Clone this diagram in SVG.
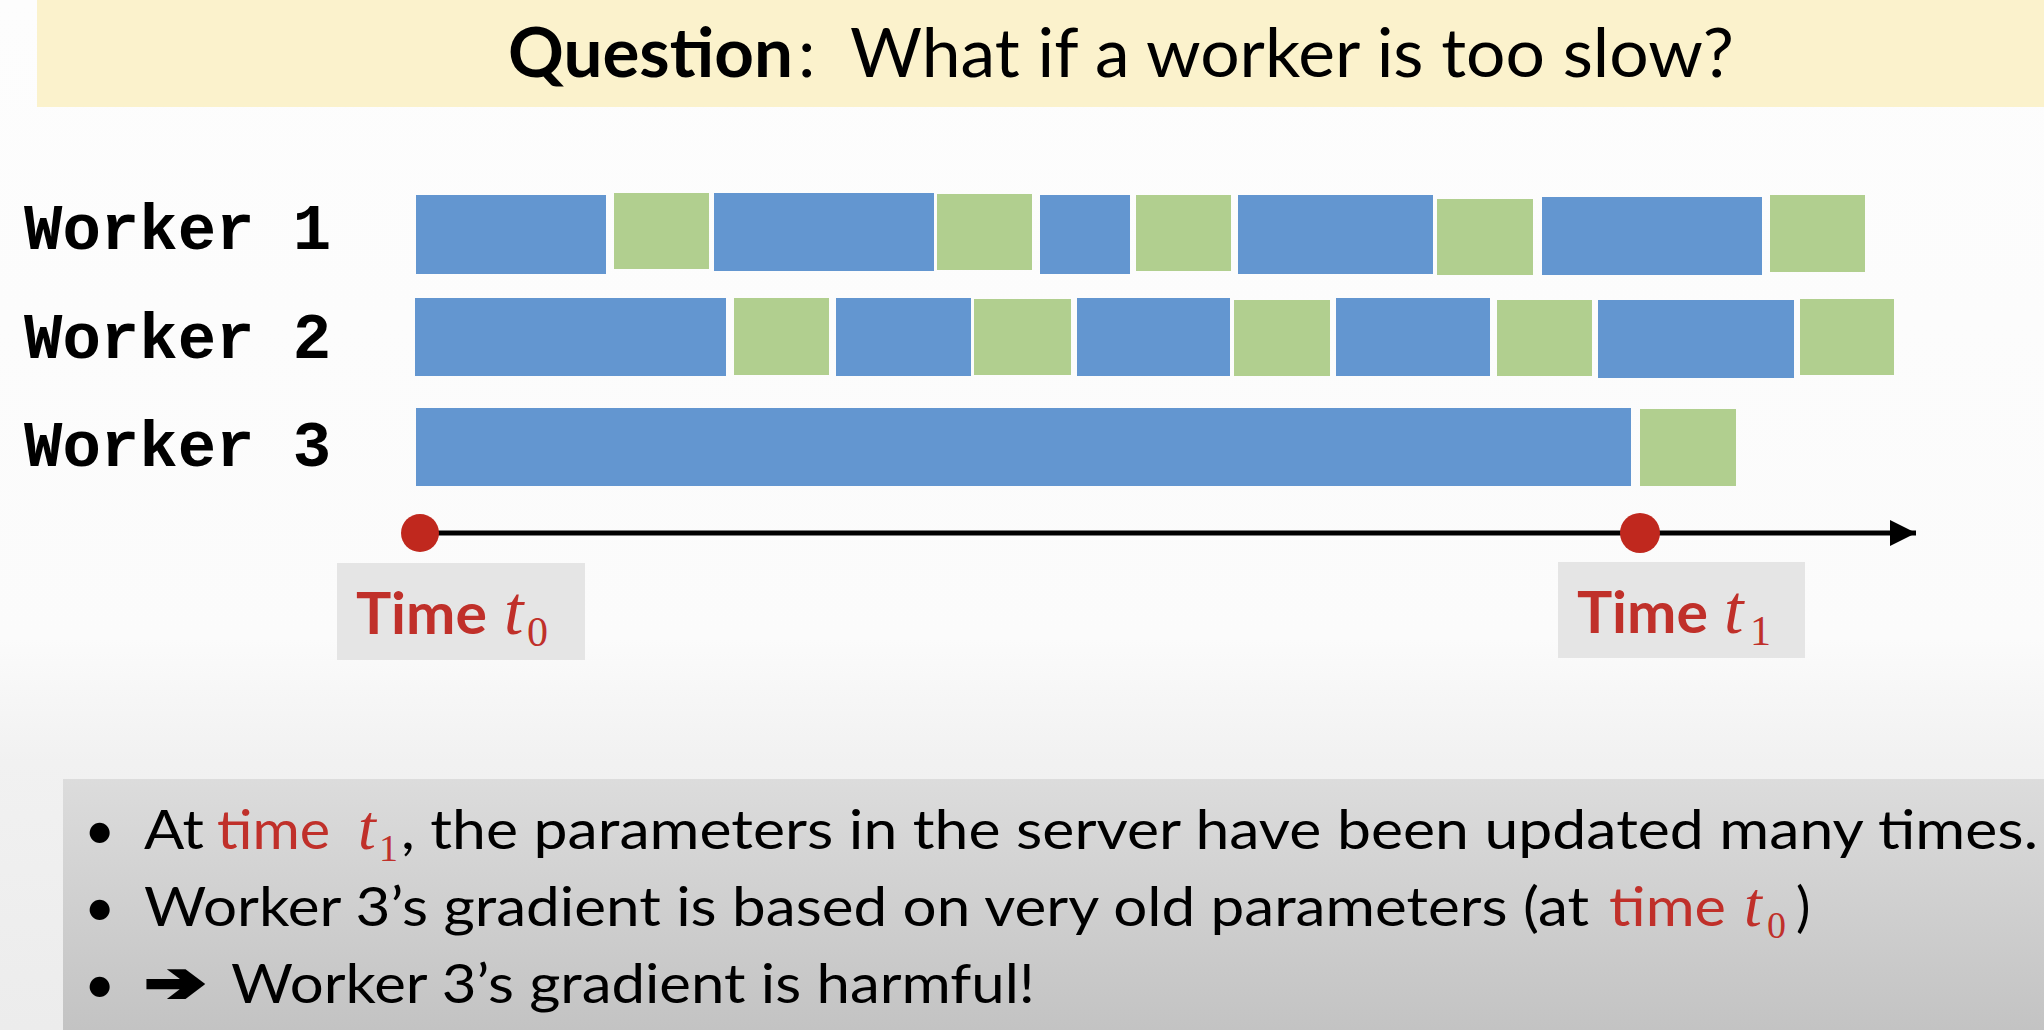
<svg xmlns="http://www.w3.org/2000/svg" width="2044" height="1030" viewBox="0 0 2044 1030">
<defs>
<linearGradient id="bg" x1="0" y1="0" x2="0" y2="1">
<stop offset="0" stop-color="#fdfdfd"/>
<stop offset="0.62" stop-color="#fbfbfb"/>
<stop offset="0.74" stop-color="#f1f1f1"/>
<stop offset="1" stop-color="#ececec"/>
</linearGradient>
<linearGradient id="box" x1="0" y1="0" x2="0" y2="1">
<stop offset="0" stop-color="#dcdcdc"/>
<stop offset="1" stop-color="#c3c3c3"/>
</linearGradient>
<marker id="arr" markerUnits="userSpaceOnUse" markerWidth="30" markerHeight="30" refX="26" refY="13" orient="auto">
<path d="M0,0 L26,13 L0,26 Z" fill="#000"/>
</marker>
<style>
.b{fill:#6396d0}
.g{fill:#b1cf8f}
.wl{font-family:"Liberation Mono","Courier New",monospace;font-weight:bold;font-size:64px;fill:#000}
.lbl{fill:#e5e5e5}
.tm{font-family:Lato,"Open Sans",sans-serif;font-weight:bold;font-size:58px;fill:#c0302a}
.mi{font-family:"Liberation Serif","DejaVu Serif",serif;font-style:italic;fill:#c0302a}
.sub{font-family:"Liberation Serif","DejaVu Serif",serif;font-style:normal;fill:#c0302a}
.bt{font-family:Lato,"Open Sans",sans-serif;font-size:54px;fill:#000}
.red{fill:#c0302a}
.dot{fill:#c0281e}
</style>
</defs>
<rect x="0" y="0" width="2044" height="1030" fill="url(#bg)"/>
<g id="title">
<rect x="37" y="0" width="2007" height="107" fill="#fbf2cc"/>
<text x="508" y="77" font-family="Lato,'Open Sans',sans-serif" font-weight="bold" font-size="68" textLength="285" lengthAdjust="spacingAndGlyphs">Question</text>
<text x="798" y="77" font-family="Lato,'Open Sans',sans-serif" font-size="68" textLength="936" lengthAdjust="spacingAndGlyphs" xml:space="preserve">:  What if a worker is too slow?</text>
</g>
<g id="worker1">
<text class="wl" x="24" y="249">Worker 1</text>
<rect class="b" x="416" y="195" width="190" height="79"/>
<rect class="g" x="614" y="193" width="95" height="76"/>
<rect class="b" x="714" y="193" width="220" height="78"/>
<rect class="g" x="937" y="194" width="95" height="76"/>
<rect class="b" x="1040" y="195" width="90" height="79"/>
<rect class="g" x="1136" y="195" width="95" height="76"/>
<rect class="b" x="1238" y="195" width="195" height="79"/>
<rect class="g" x="1437" y="199" width="96" height="76"/>
<rect class="b" x="1542" y="197" width="220" height="78"/>
<rect class="g" x="1770" y="195" width="95" height="77"/>
</g>
<g id="worker2">
<text class="wl" x="24" y="358">Worker 2</text>
<rect class="b" x="415" y="298" width="311" height="78"/>
<rect class="g" x="734" y="298" width="95" height="77"/>
<rect class="b" x="836" y="298" width="135" height="78"/>
<rect class="g" x="974" y="299" width="97" height="76"/>
<rect class="b" x="1077" y="298" width="153" height="78"/>
<rect class="g" x="1234" y="300" width="96" height="76"/>
<rect class="b" x="1336" y="298" width="154" height="78"/>
<rect class="g" x="1497" y="300" width="95" height="76"/>
<rect class="b" x="1598" y="300" width="196" height="78"/>
<rect class="g" x="1800" y="299" width="94" height="76"/>
</g>
<g id="worker3">
<text class="wl" x="24" y="466">Worker 3</text>
<rect class="b" x="416" y="408" width="1215" height="78"/>
<rect class="g" x="1640" y="409" width="96" height="77"/>
</g>
<g id="connectors">
<line x1="420" y1="533" x2="1916" y2="533" stroke="#000" stroke-width="5" marker-end="url(#arr)"/>
</g>
<g id="t0">
<circle class="dot" cx="420" cy="533" r="19"/>
<rect class="lbl" x="337" y="563" width="248" height="97"/>
<text class="tm" x="356" y="634" textLength="131" lengthAdjust="spacingAndGlyphs">Time</text>
<text class="mi" x="504" y="634" font-size="70">t</text>
<text class="sub" x="527" y="646" font-size="42">0</text>
</g>
<g id="t1">
<circle class="dot" cx="1640" cy="533" r="20"/>
<rect class="lbl" x="1558" y="562" width="247" height="96"/>
<text class="tm" x="1577" y="633" textLength="131" lengthAdjust="spacingAndGlyphs">Time</text>
<text class="mi" x="1724" y="633" font-size="70">t</text>
<text class="sub" x="1750" y="645" font-size="42">1</text>
</g>
<g id="notes">
<rect x="63" y="779" width="1981" height="251" fill="url(#box)"/>
<text class="bt" x="84" y="849" font-family="'Liberation Sans',sans-serif">•</text>
<text class="bt" x="144" y="849" textLength="60" lengthAdjust="spacingAndGlyphs">At</text>
<text class="bt red" x="217" y="849" textLength="113" lengthAdjust="spacingAndGlyphs">time</text>
<text class="mi" x="358" y="849" font-size="64">t</text>
<text class="sub" x="379" y="861" font-size="38">1</text>
<text class="bt" x="401" y="849" textLength="1637" lengthAdjust="spacingAndGlyphs">, the parameters in the server have been updated many times.</text>
<text class="bt" x="84" y="926" font-family="'Liberation Sans',sans-serif">•</text>
<text class="bt" x="144" y="926" textLength="1445" lengthAdjust="spacingAndGlyphs">Worker 3’s gradient is based on very old parameters (at</text>
<text class="bt red" x="1609" y="926" textLength="117" lengthAdjust="spacingAndGlyphs">time</text>
<text class="mi" x="1744" y="926" font-size="64">t</text>
<text class="sub" x="1767" y="938" font-size="38">0</text>
<text class="bt" x="1796" y="926">)</text>
<text class="bt" x="84" y="1003" font-family="'Liberation Sans',sans-serif">•</text>
<text x="145" y="1001" font-family="'DejaVu Sans',sans-serif" font-weight="bold" font-size="54" stroke="#000" stroke-width="4" stroke-linejoin="miter" textLength="60" lengthAdjust="spacingAndGlyphs">➔</text>
<text class="bt" x="231" y="1003" textLength="804" lengthAdjust="spacingAndGlyphs">Worker 3’s gradient is harmful!</text>
</g>
</svg>
